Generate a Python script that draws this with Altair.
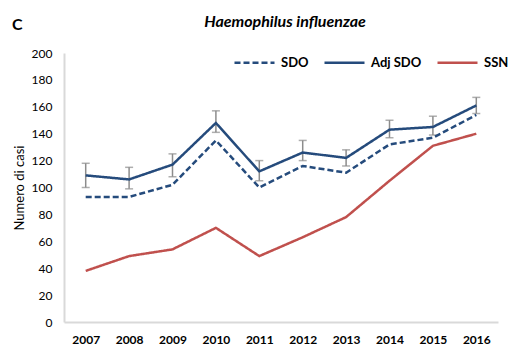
import altair as alt
import pandas as pd

years = ["2007", "2008", "2009", "2010", "2011", "2012", "2013", "2014", "2015", "2016"]
sdo = [93, 93, 102, 135, 100, 116, 111, 132, 137, 154]
adj_sdo = [109, 106, 117, 148, 112, 126, 122, 143, 145, 161]
adj_low = [100, 99, 108, 141, 105, 120, 116, 137, 139, 155]
adj_high = [118, 115, 125, 157, 120, 135, 128, 150, 153, 167]
ssn = [38, 49, 54, 70, 49, 63, 78, 105, 131, 140]
series = ["SDO", "Adj SDO", "SSN"]

FONT = "Lato"
BLUE = "#254b7c"
RED = "#c0504d"
GREY = "#8c8c8c"

rows = []
for name, vals in zip(series, [sdo, adj_sdo, ssn]):
    for y, v in zip(years, vals):
        rows.append({"year": y, "value": v, "series": name})
df = pd.DataFrame(rows)
err = pd.DataFrame({"year": years, "low": adj_low, "high": adj_high})

xscale = alt.Scale(type="point", padding=0.5)
xaxis = alt.Axis(title=None, labelAngle=0, labelAlign="center", ticks=False,
                 domainColor="#d9d9d9", domainWidth=2, labelFontWeight="bold",
                 labelFontSize=12, labelPadding=12, labelFont=FONT, labelColor="#000")
yscale = alt.Scale(domain=[0, 200])
yaxis = alt.Axis(title="Numero di casi", values=list(range(0, 201, 20)), grid=False,
                 ticks=False, domainColor="#d9d9d9", domainWidth=2, labelFontSize=12,
                 labelFont=FONT, labelColor="#000", labelPadding=12, labelOverlap=False,
                 titleFont=FONT, titleFontSize=13, titleFontWeight="normal",
                 titleColor="#000", titlePadding=5)


def X():
    return alt.X("year:O", scale=xscale, axis=xaxis)


def Y(field):
    return alt.Y(field, scale=yscale, axis=yaxis)


lines = alt.Chart(df).mark_line(strokeWidth=2.5).encode(
    x=X(),
    y=Y("value:Q"),
    color=alt.Color("series:N", scale=alt.Scale(domain=series, range=[BLUE, BLUE, RED]),
                    sort=series,
                    legend=alt.Legend(title=None, orient="none", legendX=169, legendY=-12,
                                      direction="horizontal", symbolType="stroke",
                                      symbolSize=1600, symbolStrokeWidth=2.5,
                                      labelFont=FONT, labelFontSize=13, labelFontWeight="bold",
                                      labelColor="#000", labelOffset=5, columnPadding=10,
                                      gridAlign="each")),
    strokeDash=alt.StrokeDash("series:N", sort=series,
                              scale=alt.Scale(domain=series, range=[[6, 3], [1, 0], [1, 0]]),
                              legend=None),
)

rules = alt.Chart(err).mark_rule(color=GREY, strokeWidth=1.5).encode(
    x=X(), y=Y("low:Q"), y2="high:Q")
cap_lo = alt.Chart(err).mark_tick(color=GREY, size=8, thickness=1.5, orient="horizontal").encode(
    x=X(), y=Y("low:Q"))
cap_hi = alt.Chart(err).mark_tick(color=GREY, size=8, thickness=1.5, orient="horizontal").encode(
    x=X(), y=Y("high:Q"))

label = alt.Chart(pd.DataFrame({"t": ["C"]})).mark_text(
    font=FONT, fontSize=16, fontWeight="bold", align="left", baseline="middle", color="#000"
).encode(x=alt.value(-52), y=alt.value(-28), text="t:N")

title = alt.Chart(pd.DataFrame({"t": ["Haemophilus influenzae"]})).mark_text(
    font=FONT, fontSize=16, fontWeight="bold", fontStyle="italic", align="center",
    baseline="middle", color="#000"
).encode(x=alt.value(221), y=alt.value(-31), text="t:N")

chart = alt.layer(rules, cap_lo, cap_hi, lines, label, title).properties(
    width=434, height=269,
    autosize=alt.AutoSizeParams(type="none"),
    padding={"left": 56, "top": 45, "right": 10, "bottom": 30},
).configure_view(stroke=None)

chart.save("out.html", embed_options={"renderer": "svg", "actions": False})
